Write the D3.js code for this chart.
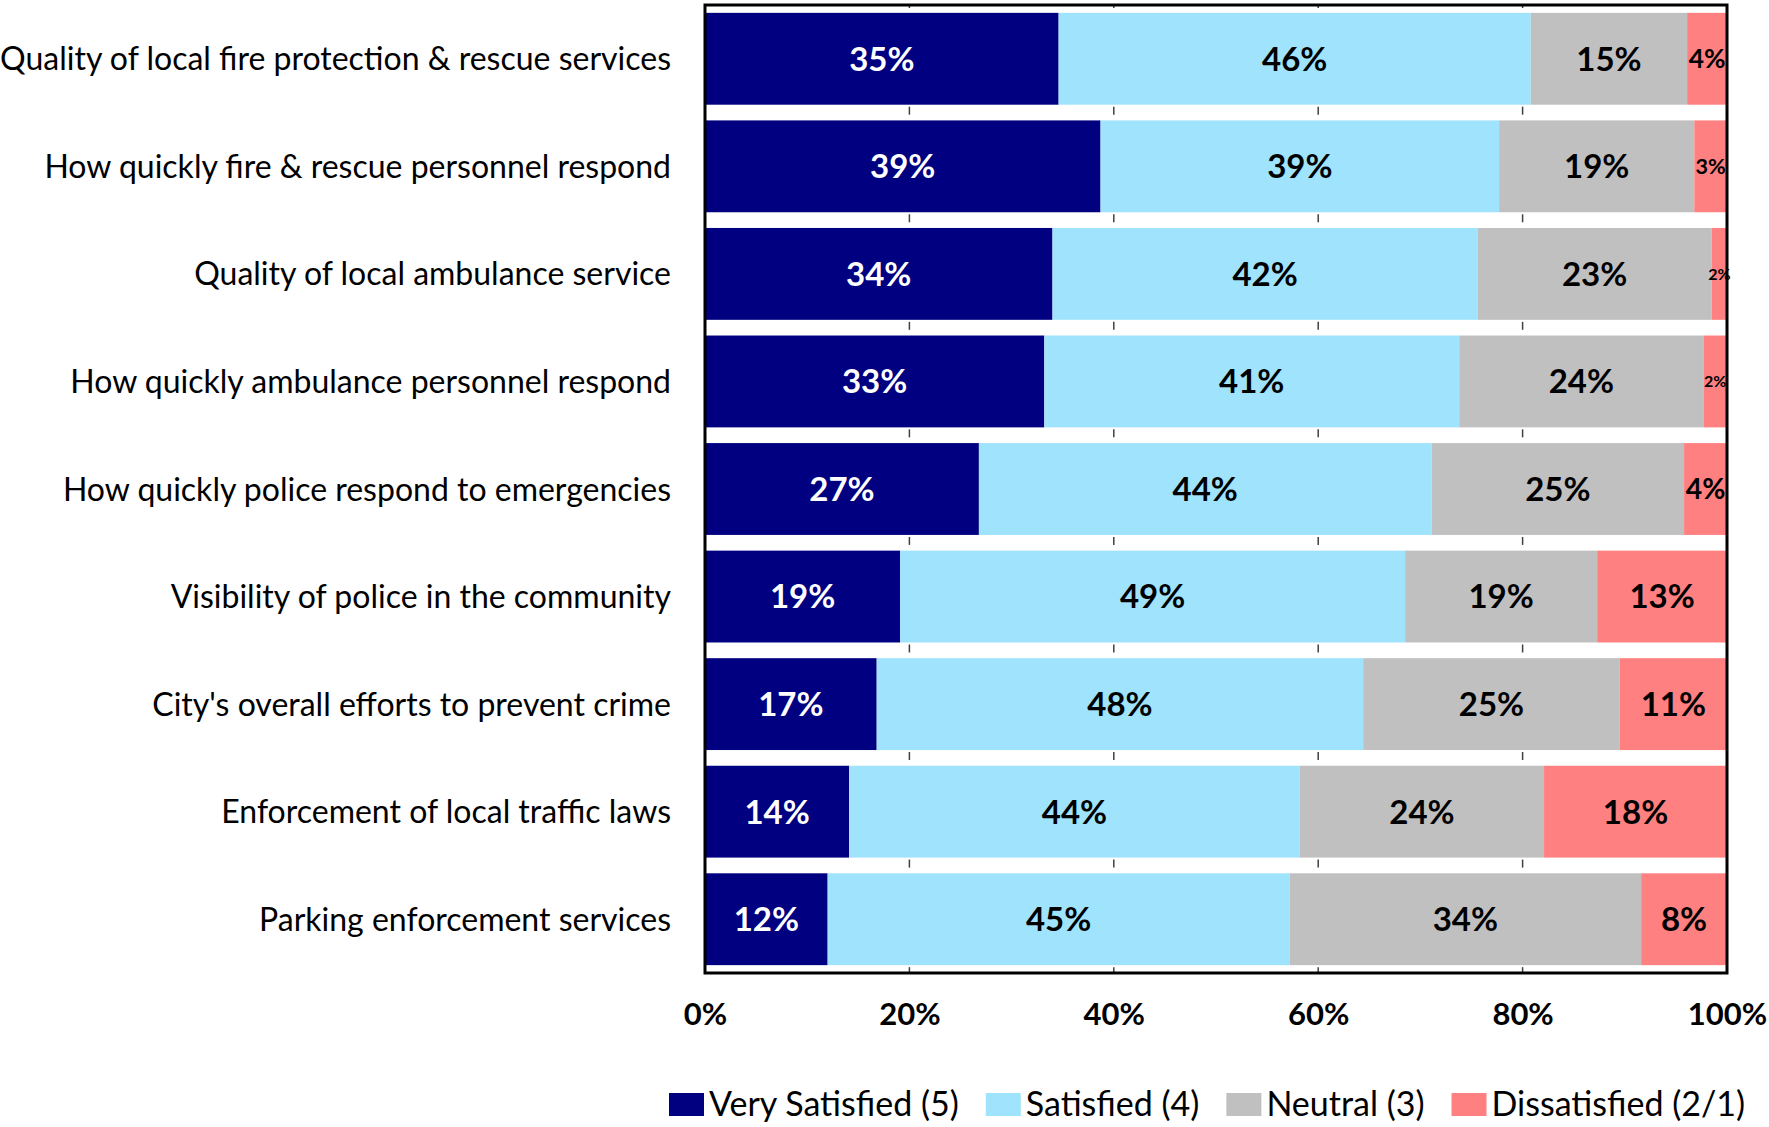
<!DOCTYPE html>
<html>
<head>
<meta charset="utf-8">
<script src="https://cdn.jsdelivr.net/npm/d3@7"></script>
<style>
    body { margin: 0; background: #fff; }
    text { font-family: Lato, "Open Sans", sans-serif; }
</style>
</head>
<body>
<svg id="chart"></svg>
<script>
const categories = [
    "Quality of local fire protection & rescue services",
    "How quickly fire & rescue personnel respond",
    "Quality of local ambulance service",
    "How quickly ambulance personnel respond",
    "How quickly police respond to emergencies",
    "Visibility of police in the community",
    "City's overall efforts to prevent crime",
    "Enforcement of local traffic laws",
    "Parking enforcement services"
];

const verySatisfied = [34.6, 38.7, 34.0, 33.2, 26.8, 19.1, 16.8, 14.1, 12.0];
const satisfied = [46.2, 39.0, 41.6, 40.6, 44.3, 49.4, 47.6, 44.1, 45.2];
const neutral = [15.3, 19.1, 22.9, 23.9, 24.7, 18.8, 25.1, 23.9, 34.4];
const dissatisfied = [3.9, 3.2, 1.5, 2.3, 4.2, 12.7, 10.5, 17.9, 8.4];

const seriesNames = ["Very Satisfied (5)", "Satisfied (4)", "Neutral (3)", "Dissatisfied (2/1)"];
const tickValues = [0, 0.2, 0.4, 0.6, 0.8, 1];

// table for d3.stack

const rows = categories.map((c, i) => ({
    category: c,
    [seriesNames[0]]: verySatisfied[i],
    [seriesNames[1]]: satisfied[i],
    [seriesNames[2]]: neutral[i],
    [seriesNames[3]]: dissatisfied[i]
}));

const stacked = d3.stack()
    .keys(seriesNames)
    .offset(d3.stackOffsetExpand)(rows);

// SVG setup

const W = 1769, H = 1127;
const plot = { left: 705, right: 1727, top: 5, bottom: 973 };

const svg = d3.select("svg#chart")
    .attr("width", W)
    .attr("height", H)
    .attr("viewBox", `0 0 ${W} ${H}`);

// Scale

const x = d3.scaleLinear()
    .domain([0, 1])
    .range([plot.left, plot.right]);

const y = d3.scaleBand()
    .domain(categories)
    .range([plot.top, plot.bottom])
    .paddingInner(0.146)
    .paddingOuter(0.073);

const color = d3.scaleOrdinal()
    .domain(seriesNames)
    .range(["#000080", "#9fe3fc", "#c0c0c0", "#ff8080"]);

const labelColor = d3.scaleOrdinal()
    .domain(seriesNames)
    .range(["#ffffff", "#000000", "#000000", "#000000"]);

// little tick marks that show in the gaps

const ticksG = svg.append("g");
[0.2, 0.4, 0.6, 0.8].forEach(t => {
    ticksG.append("line")
        .attr("x1", x(t)).attr("x2", x(t))
        .attr("y1", plot.top).attr("y2", plot.top + 3)
        .attr("stroke", "#404040")
        .attr("stroke-width", 1.5);
    categories.forEach(c => {
        const y0 = y(c) + y.bandwidth() + 2;
        ticksG.append("line")
            .attr("x1", x(t)).attr("x2", x(t))
            .attr("y1", y0).attr("y2", Math.min(y0 + 8, plot.bottom))
            .attr("stroke", "#404040")
            .attr("stroke-width", 1.5);
    });
});

// Bars

const layers = svg.append("g")
    .selectAll("g")
    .data(stacked)
    .join("g")
    .attr("fill", d => color(d.key));

layers.selectAll("rect")
    .data(d => d)
    .join("rect")
    .attr("x", d => x(d[0]))
    .attr("width", d => x(d[1]) - x(d[0]))
    .attr("y", d => y(d.data.category))
    .attr("height", y.bandwidth());

// Frame

svg.append("rect")
    .attr("x", plot.left)
    .attr("y", plot.top)
    .attr("width", plot.right - plot.left)
    .attr("height", plot.bottom - plot.top)
    .attr("fill", "none")
    .attr("stroke", "#000")
    .attr("stroke-width", 3);

// Value labels, shrunk when the segment is narrow

const labels = svg.append("g");
stacked.forEach(layer => {
    layer.forEach(d => {
        const w = x(d[1]) - x(d[0]);
        const size = Math.min(33, Math.max(16, w * 0.66));
        labels.append("text")
            .attr("x", (x(d[0]) + x(d[1])) / 2)
            .attr("y", y(d.data.category) + y.bandwidth() / 2)
            .attr("dy", "0.36em")
            .attr("text-anchor", "middle")
            .attr("fill", labelColor(layer.key))
            .style("font-weight", "bold")
            .style("font-size", size + "px")
            .text(Math.round(d.data[layer.key]) + "%");
    });
});

// Category labels

svg.append("g")
    .selectAll("text")
    .data(categories)
    .join("text")
    .attr("x", 671)
    .attr("y", d => y(d) + y.bandwidth() / 2)
    .attr("dy", "0.36em")
    .attr("text-anchor", "end")
    .style("font-size", "32px")
    .style("fill", "#000")
    .text(d => d);

// X axis labels

const xAxis = d3.axisBottom(x)
    .tickValues(tickValues)
    .tickFormat(d3.format(".0%"))
    .tickSize(0)
    .tickPadding(0);

const axisG = svg.append("g")
    .attr("transform", `translate(0, 1003)`)
    .call(xAxis);

axisG.select(".domain").remove();
axisG.selectAll("text")
    .attr("dy", "0.72em")
    .style("font-family", "Lato, sans-serif")
    .style("font-weight", "bold")
    .style("font-size", "31px")
    .style("fill", "#000");

// Legend

const legend = svg.append("g")
    .attr("class", "legend");

let lx = 669;
seriesNames.forEach(name => {
    legend.append("rect")
        .attr("x", lx)
        .attr("y", 1093)
        .attr("width", 35)
        .attr("height", 23)
        .attr("fill", color(name));

    const t = legend.append("text")
        .attr("x", lx + 40)
        .attr("y", 1116)
        .style("font-size", "34px")
        .style("fill", "#000")
        .text(name);

    lx += 40 + t.node().getComputedTextLength() + 27;
});
</script>
</body>
</html>
